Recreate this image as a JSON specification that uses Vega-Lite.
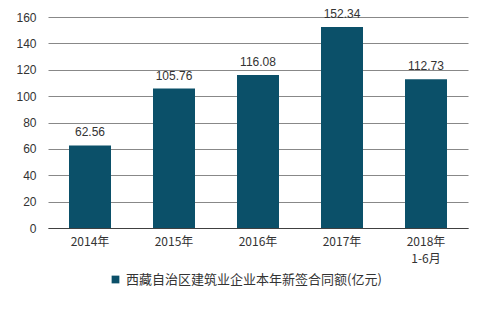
{
  "$schema": "https://vega.github.io/schema/vega-lite/v6.json",
  "width": 420,
  "height": 211,
  "autosize": {"type": "none"},
  "padding": {"left": 48, "top": 17, "right": 18, "bottom": 81},
  "background": "#ffffff",
  "config": {
    "view": {"stroke": null},
    "font": "Liberation Sans",
    "axis": {"labelFont": "Noto Sans CJK SC", "labelFontSize": 12, "labelColor": "#333333"}
  },
  "data": {
    "values": [
      {"year": "2014年", "value": 62.56, "series": "西藏自治区建筑业企业本年新签合同额(亿元)"},
      {"year": "2015年", "value": 105.76, "series": "西藏自治区建筑业企业本年新签合同额(亿元)"},
      {"year": "2016年", "value": 116.08, "series": "西藏自治区建筑业企业本年新签合同额(亿元)"},
      {"year": "2017年", "value": 152.34, "series": "西藏自治区建筑业企业本年新签合同额(亿元)"},
      {"year": "2018年1-6月", "value": 112.73, "series": "西藏自治区建筑业企业本年新签合同额(亿元)"}
    ]
  },
  "encoding": {
    "x": {
      "field": "year", "type": "nominal", "sort": null,
      "scale": {"paddingInner": 0.5, "paddingOuter": 0.25},
      "axis": {
        "title": null, "labelAngle": 0, "ticks": false, "domain": true,
        "domainColor": "#404040", "labelPadding": 8, "labelLineHeight": 17,
        "labelExpr": "datum.value == '2018年1-6月' ? ['2018年', '1-6月'] : datum.value"
      }
    },
    "y": {
      "field": "value", "type": "quantitative",
      "scale": {"domain": [0, 160]},
      "axis": {
        "title": null, "values": [0, 20, 40, 60, 80, 100, 120, 140, 160],
        "ticks": false, "domain": false, "grid": true, "gridColor": "#888888",
        "labelPadding": 12, "labelFont": "Liberation Sans"
      }
    }
  },
  "layer": [
    {
      "mark": {"type": "bar", "color": "#0b5069"},
      "encoding": {
        "color": {
          "field": "series", "type": "nominal",
          "scale": {"range": ["#0b5069"]},
          "legend": {
            "title": null, "orient": "none", "legendX": 61, "legendY": 256,
            "symbolType": "square", "symbolSize": 60, "labelFontSize": 13,
            "labelLimit": 400, "labelOffset": 4,
            "labelFont": "Noto Sans CJK SC", "labelColor": "#333333", "symbolStrokeWidth": 0
          }
        }
      }
    },
    {
      "mark": {"type": "text", "dy": -13, "fontSize": 12, "font": "Liberation Sans", "color": "#333333"},
      "encoding": {"text": {"field": "value", "type": "quantitative", "format": ".2f"}}
    }
  ]
}
